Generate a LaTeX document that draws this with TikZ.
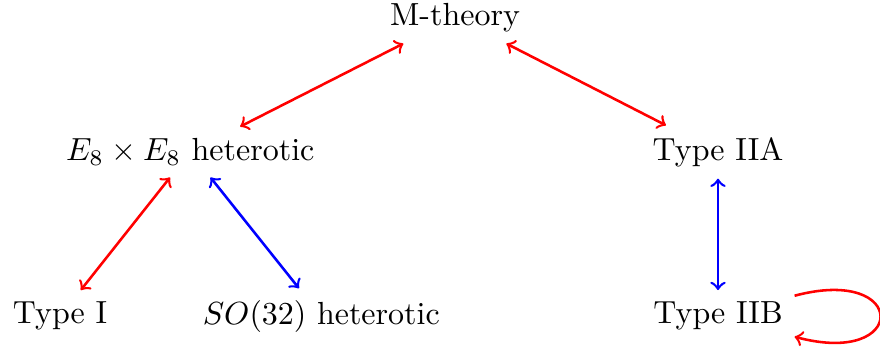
\documentclass[tikz,border=0pt]{standalone}
\usetikzlibrary{positioning}
\begin{document}
\begin{tikzpicture}[thick,
	duality/.style={<->, thick, red},
	tduality/.style={<->, thick, blue},
	selfdual/.style={->, thick, red}]

	\useasboundingbox (0,0) rectangle (9.67,3.86);

	\node (mth) at (5.00,3.67) {M-theory};
	\node (hete) at (2.09,2.19) {$E_8\times E_8$ heterotic};
	\node (iia) at (7.89,2.19) {Type IIA};
	\node (typei) at (0.66,0.385) {Type I};
	\node (heto) at (3.53,0.385) {$SO(32)$ heterotic};
	\node (iib) at (7.89,0.385) {Type IIB};

	\draw[duality] (mth) -- (hete);
	\draw[duality] (mth) -- (iia);
	\draw[duality] (hete) -- (typei);
	\draw[tduality] (hete) -- (heto);
	\draw[tduality] (iia) -- (iib);
	\draw[selfdual] (iib) to[loop right, min distance=1.3cm] (iib);
\end{tikzpicture}
\end{document}
